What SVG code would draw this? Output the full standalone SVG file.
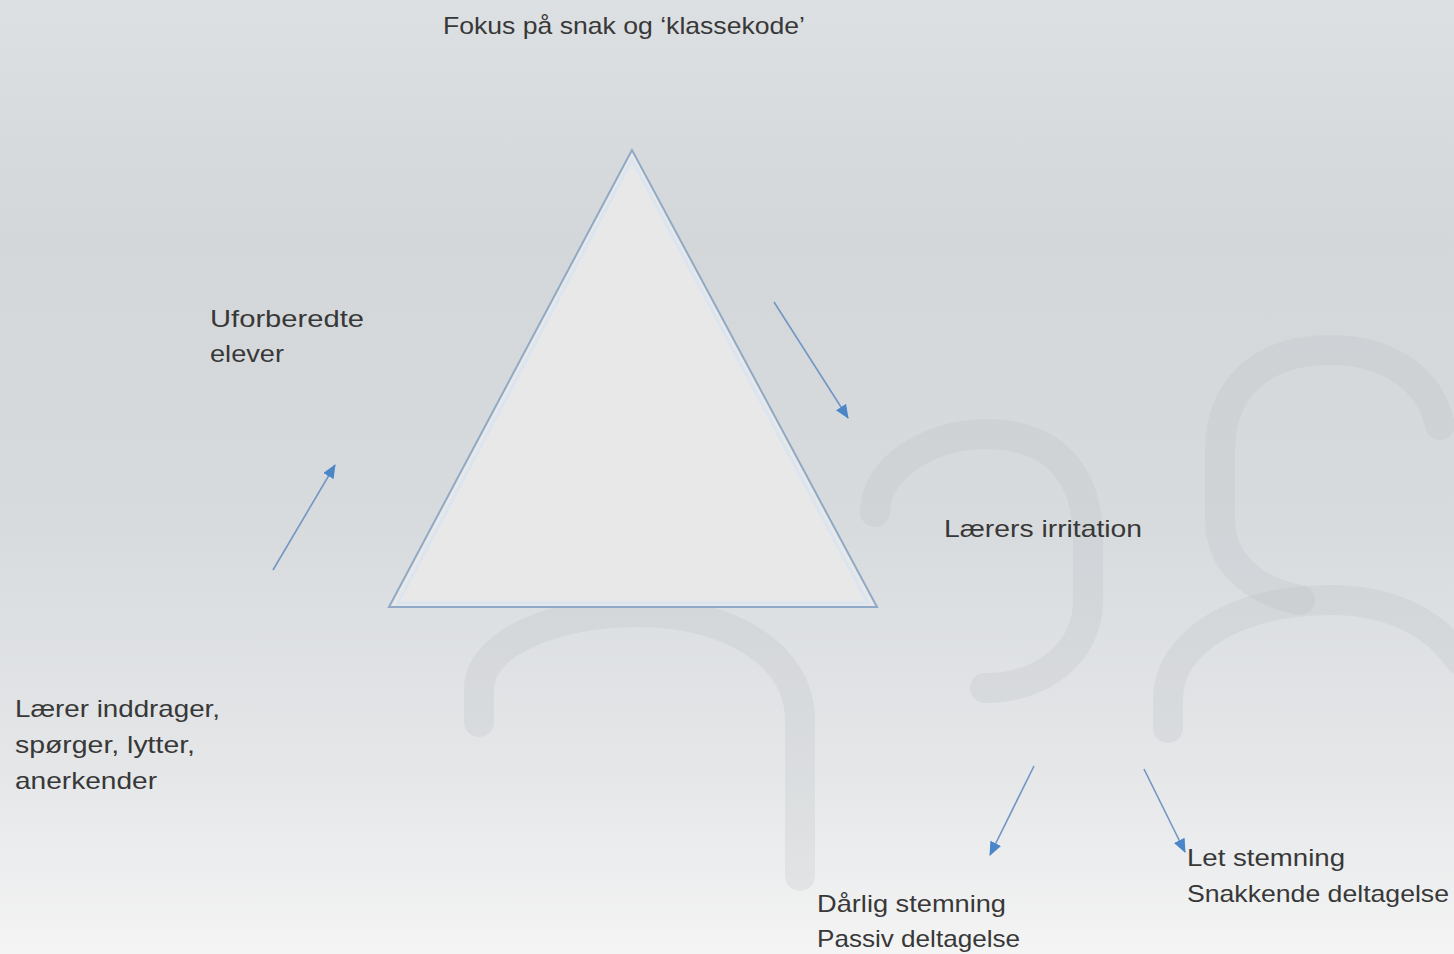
<svg xmlns="http://www.w3.org/2000/svg" width="1454" height="954" viewBox="0 0 1454 954">
<defs>
<linearGradient id="bg" x1="0" y1="0" x2="0" y2="1">
<stop offset="0" stop-color="#dde0e3"/>
<stop offset="0.25" stop-color="#d4d7da"/>
<stop offset="0.55" stop-color="#d8dbde"/>
<stop offset="0.8" stop-color="#e4e6e8"/>
<stop offset="1" stop-color="#f4f4f4"/>
</linearGradient>
<marker id="ah" viewBox="0 0 14 12" refX="13" refY="6" markerWidth="14" markerHeight="12" orient="auto" markerUnits="userSpaceOnUse">
<path d="M0,0 L14,6 L0,12 z" fill="#4a86c8"/>
</marker>
<style>
.t{font-family:"Liberation Sans",Arial,sans-serif;font-size:24px;fill:#383838;}
.deco{fill:none;stroke:#b8babe;stroke-opacity:0.22;stroke-width:30;stroke-linecap:round;}
.arr{fill:none;stroke:#7196c4;stroke-width:1.6;marker-end:url(#ah);}
</style>
</defs>
<rect x="0" y="0" width="1454" height="954" fill="url(#bg)"/>
<g id="decor">
<path class="deco" d="M479,722 L479,690 C479,640 560,612 640,612 C720,612 800,650 800,720 L800,876"/>
<path class="deco" d="M875,512 C875,468 930,434 985,434 C1050,434 1088,470 1088,540 L1088,600 C1088,655 1040,688 985,688"/>
<path class="deco" d="M1440,425 C1430,380 1390,350 1330,350 C1260,350 1220,390 1220,450 L1220,520 C1220,560 1250,590 1300,600"/>
<path class="deco" d="M1168,728 L1168,700 C1168,640 1240,600 1330,600 C1400,600 1440,630 1460,660"/>
</g>
<g id="triangle">
<polygon points="632,150 389,607 877,607" fill="#e8e8e8" stroke="#8fa9c6" stroke-width="2"/>
<polygon points="632,160 398,603 868,603" fill="none" stroke="#d4e4f4" stroke-width="3" stroke-opacity="0.7"/>
</g>
<g id="connectors">
<line class="arr" x1="273" y1="570" x2="335" y2="465"/>
<line class="arr" x1="774" y1="302" x2="848" y2="418"/>
<line class="arr" x1="1034" y1="766" x2="990" y2="855"/>
<line class="arr" x1="1144" y1="769" x2="1185" y2="852"/>
</g>
<g id="n-top"><text class="t" x="443" y="34" textLength="362" lengthAdjust="spacingAndGlyphs">Fokus på snak og ‘klassekode’</text></g>
<g id="n-uforberedte">
<text class="t" x="210" y="327" textLength="154" lengthAdjust="spacingAndGlyphs">Uforberedte</text>
<text class="t" x="210" y="362" textLength="74" lengthAdjust="spacingAndGlyphs">elever</text>
</g>
<g id="n-irritation"><text class="t" x="944" y="537" textLength="198" lengthAdjust="spacingAndGlyphs">Lærers irritation</text></g>
<g id="n-laerer">
<text class="t" x="15" y="717" textLength="205" lengthAdjust="spacingAndGlyphs">Lærer inddrager,</text>
<text class="t" x="15" y="753" textLength="180" lengthAdjust="spacingAndGlyphs">spørger, lytter,</text>
<text class="t" x="15" y="789" textLength="142" lengthAdjust="spacingAndGlyphs">anerkender</text>
</g>
<g id="n-darlig">
<text class="t" x="817" y="912" textLength="189" lengthAdjust="spacingAndGlyphs">Dårlig stemning</text>
<text class="t" x="817" y="947" textLength="203" lengthAdjust="spacingAndGlyphs">Passiv deltagelse</text>
</g>
<g id="n-let">
<text class="t" x="1187" y="866" textLength="158" lengthAdjust="spacingAndGlyphs">Let stemning</text>
<text class="t" x="1187" y="902" textLength="262" lengthAdjust="spacingAndGlyphs">Snakkende deltagelse</text>
</g>
</svg>
